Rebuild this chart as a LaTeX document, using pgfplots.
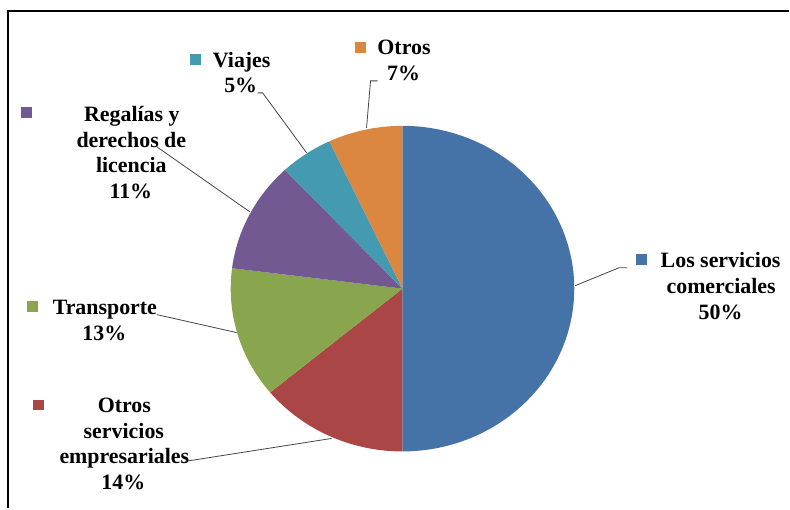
\documentclass[border=0pt]{standalone}
\usepackage{pgfplots}
\pgfplotsset{compat=1.18}
\usepackage{fontspec}
\setmainfont{Liberation Serif}[BoldFont={Liberation Serif Bold}]
\definecolor{cBlue}{RGB}{69,115,167}
\definecolor{cRed}{RGB}{170,70,69}
\definecolor{cGreen}{RGB}{137,166,78}
\definecolor{cPurple}{RGB}{114,89,145}
\definecolor{cTeal}{RGB}{68,154,177}
\definecolor{cOrange}{RGB}{220,135,64}
\definecolor{cLead}{RGB}{70,70,70}
% data (percent)
\def\vComerciales{50}
\def\vEmpresariales{14}
\def\vTransporte{13}
\def\vRegalias{11}
\def\vViajes{5}
\def\vOtros{7}
\pgfmathsetmacro\aA{90}
\pgfmathsetmacro\aB{\aA-3.6*\vComerciales}
\pgfmathsetmacro\aC{\aB-3.6*\vEmpresariales}
\pgfmathsetmacro\aD{\aC-3.6*\vTransporte}
\pgfmathsetmacro\aE{\aD-3.6*\vRegalias}
\pgfmathsetmacro\aF{\aE-3.6*\vViajes}
\pgfmathsetmacro\aG{\aF-3.6*\vOtros}
\def\cx{403}\def\cy{289}\def\rx{172}\def\ry{163}
\begin{document}
\begin{tikzpicture}[
  lbl/.style={anchor=base,font=\fontsize{22}{26}\selectfont\bfseries,inner sep=0pt},
  key/.style={fill=#1,minimum size=11bp,inner sep=0pt,anchor=center}]
\begin{axis}[width=790bp,height=509bp,scale only axis,
  xmin=0,xmax=790,ymin=0,ymax=509,y dir=reverse,hide axis,clip=false]
\path[fill=white] (axis cs:0,0) rectangle (axis cs:790,509);
% slices
\addplot[fill=cBlue,draw=none,domain=\aB:\aA,samples=91] ({\cx+\rx*cos(x)},{\cy-\ry*sin(x)}) -- (axis cs:\cx,\cy) -- cycle;
\addplot[fill=cRed,draw=none,domain=\aC:\aB,samples=40] ({\cx+\rx*cos(x)},{\cy-\ry*sin(x)}) -- (axis cs:\cx,\cy) -- cycle;
\addplot[fill=cGreen,draw=none,domain=\aD:\aC,samples=40] ({\cx+\rx*cos(x)},{\cy-\ry*sin(x)}) -- (axis cs:\cx,\cy) -- cycle;
\addplot[fill=cPurple,draw=none,domain=\aE:\aD,samples=40] ({\cx+\rx*cos(x)},{\cy-\ry*sin(x)}) -- (axis cs:\cx,\cy) -- cycle;
\addplot[fill=cTeal,draw=none,domain=\aF:\aE,samples=20] ({\cx+\rx*cos(x)},{\cy-\ry*sin(x)}) -- (axis cs:\cx,\cy) -- cycle;
\addplot[fill=cOrange,draw=none,domain=\aG:\aF,samples=25] ({\cx+\rx*cos(x)},{\cy-\ry*sin(x)}) -- (axis cs:\cx,\cy) -- cycle;
% leader lines
\addplot[cLead,line width=0.8bp,no markers] coordinates {(258,93) (263,93) (307,153)};
\addplot[cLead,line width=0.8bp,no markers] coordinates {(378,81) (371,81) (367,128)};
\addplot[cLead,line width=0.8bp,no markers] coordinates {(157,147) (250,212)};
\addplot[cLead,line width=0.8bp,no markers] coordinates {(157,315) (237,333)};
\addplot[cLead,line width=0.8bp,no markers] coordinates {(185,462) (332,439)};
\addplot[cLead,line width=0.8bp,no markers] coordinates {(576,286) (620,268) (628,268)};
% frame
\draw[line width=2bp] (axis cs:8,509) -- (axis cs:8,11) -- (axis cs:790,11);
% labels
\node[key=cTeal] at (axis cs:195.5,59.5) {};
\node[lbl] at (axis cs:242,68) {Viajes};
\node[lbl] at (axis cs:241,93) {5\%};
\node[key=cOrange] at (axis cs:361,47.5) {};
\node[lbl] at (axis cs:404.5,55) {Otros};
\node[lbl] at (axis cs:404,81) {7\%};
\node[key=cPurple] at (axis cs:27,112.5) {};
\node[lbl] at (axis cs:132,121.5) {Regalías y};
\node[lbl] at (axis cs:131.5,147.5) {derechos de};
\node[lbl] at (axis cs:131.5,173) {licencia};
\node[lbl] at (axis cs:131,199) {11\%};
\node[key=cGreen] at (axis cs:33,307) {};
\node[lbl] at (axis cs:105,315) {Transporte};
\node[lbl] at (axis cs:104.5,340.5) {13\%};
\node[key=cRed] at (axis cs:39,405.5) {};
\node[lbl] at (axis cs:124.5,413) {Otros};
\node[lbl] at (axis cs:124,439) {servicios};
\node[lbl] at (axis cs:124.5,464.5) {empresariales};
\node[lbl] at (axis cs:123.5,490) {14\%};
\node[key=cBlue] at (axis cs:642,259.5) {};
\node[lbl] at (axis cs:721.5,268) {Los servicios};
\node[lbl] at (axis cs:722,294) {comerciales};
\node[lbl] at (axis cs:721.5,320) {50\%};
\end{axis}
\end{tikzpicture}
\end{document}
